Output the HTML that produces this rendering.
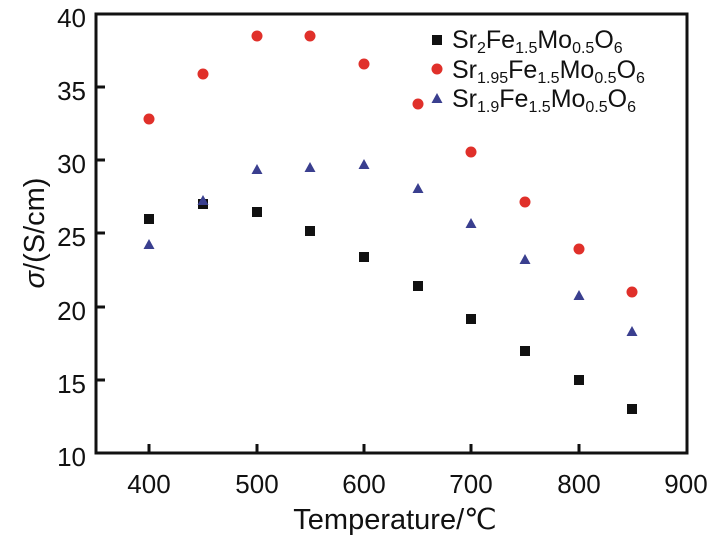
<html><body style="margin:0;background:#fff">
<svg width="718" height="538" xmlns="http://www.w3.org/2000/svg" font-family="Liberation Sans, Arial, sans-serif">
<g stroke="#111" stroke-width="3" fill="none">
<path d="M96,14 V453 H687 V14 Z"/>
<path d="M96,87h9M96,160h9M96,233h9M96,307h9M96,380h9"/>
<path d="M149,453v-9M257,453v-9M364,453v-9M471,453v-9M579,453v-9"/>
</g>
<g font-size="26" fill="#111" text-anchor="end">
<text x="86" y="27">40</text><text x="86" y="100">35</text><text x="86" y="173">30</text><text x="86" y="246">25</text><text x="86" y="320">20</text><text x="86" y="393">15</text><text x="86" y="466">10</text>
</g>
<g font-size="26" fill="#111" text-anchor="middle">
<text x="149" y="493">400</text><text x="257" y="493">500</text><text x="364" y="493">600</text><text x="471" y="493">700</text><text x="579" y="493">800</text><text x="686" y="493">900</text>
<text x="395" y="529" font-size="29">Temperature/℃</text>
<text transform="translate(44,233) rotate(-90)" font-size="29"><tspan font-style="italic">σ</tspan>/(S/cm)</text>
</g>
<g font-size="25" fill="#111">
<rect x="432" y="35" width="10" height="10" fill="#111"/>
<text x="452" y="48">Sr<tspan font-size="16" dy="5">2</tspan><tspan dy="-5">Fe</tspan><tspan font-size="16" dy="5">1.5</tspan><tspan dy="-5">Mo</tspan><tspan font-size="16" dy="5">0.5</tspan><tspan dy="-5">O</tspan><tspan font-size="16" dy="5">6</tspan></text>
<circle cx="437" cy="69" r="5.5" fill="#e0302a"/>
<text x="452" y="78">Sr<tspan font-size="16" dy="5">1.95</tspan><tspan dy="-5">Fe</tspan><tspan font-size="16" dy="5">1.5</tspan><tspan dy="-5">Mo</tspan><tspan font-size="16" dy="5">0.5</tspan><tspan dy="-5">O</tspan><tspan font-size="16" dy="5">6</tspan></text>
<path d="M437,93 l5.5,10 h-11 Z" fill="#3a3f8f"/>
<text x="452" y="107">Sr<tspan font-size="16" dy="5">1.9</tspan><tspan dy="-5">Fe</tspan><tspan font-size="16" dy="5">1.5</tspan><tspan dy="-5">Mo</tspan><tspan font-size="16" dy="5">0.5</tspan><tspan dy="-5">O</tspan><tspan font-size="16" dy="5">6</tspan></text>
</g>
<g>
<g fill="#111"><rect x="144" y="214" width="10" height="10"/><rect x="198" y="199" width="10" height="10"/><rect x="252" y="207" width="10" height="10"/><rect x="305" y="226" width="10" height="10"/><rect x="359" y="252" width="10" height="10"/><rect x="413" y="281" width="10" height="10"/><rect x="466" y="314" width="10" height="10"/><rect x="520" y="346" width="10" height="10"/><rect x="574" y="375" width="10" height="10"/><rect x="627" y="404" width="10" height="10"/></g>
<g fill="#e0302a"><circle cx="149" cy="119" r="5.5"/><circle cx="203" cy="74" r="5.5"/><circle cx="257" cy="36" r="5.5"/><circle cx="310" cy="36" r="5.5"/><circle cx="364" cy="64" r="5.5"/><circle cx="418" cy="104" r="5.5"/><circle cx="471" cy="152" r="5.5"/><circle cx="525" cy="202" r="5.5"/><circle cx="579" cy="249" r="5.5"/><circle cx="632" cy="292" r="5.5"/></g>
<g fill="#3a3f8f"><path d="M149,239l5.5,10h-11Z"/><path d="M203,195l5.5,10h-11Z"/><path d="M257,164l5.5,10h-11Z"/><path d="M310,162l5.5,10h-11Z"/><path d="M364,159l5.5,10h-11Z"/><path d="M418,183l5.5,10h-11Z"/><path d="M471,218l5.5,10h-11Z"/><path d="M525,254l5.5,10h-11Z"/><path d="M579,290l5.5,10h-11Z"/><path d="M632,326l5.5,10h-11Z"/></g>
</g>
</svg>
</body></html>
